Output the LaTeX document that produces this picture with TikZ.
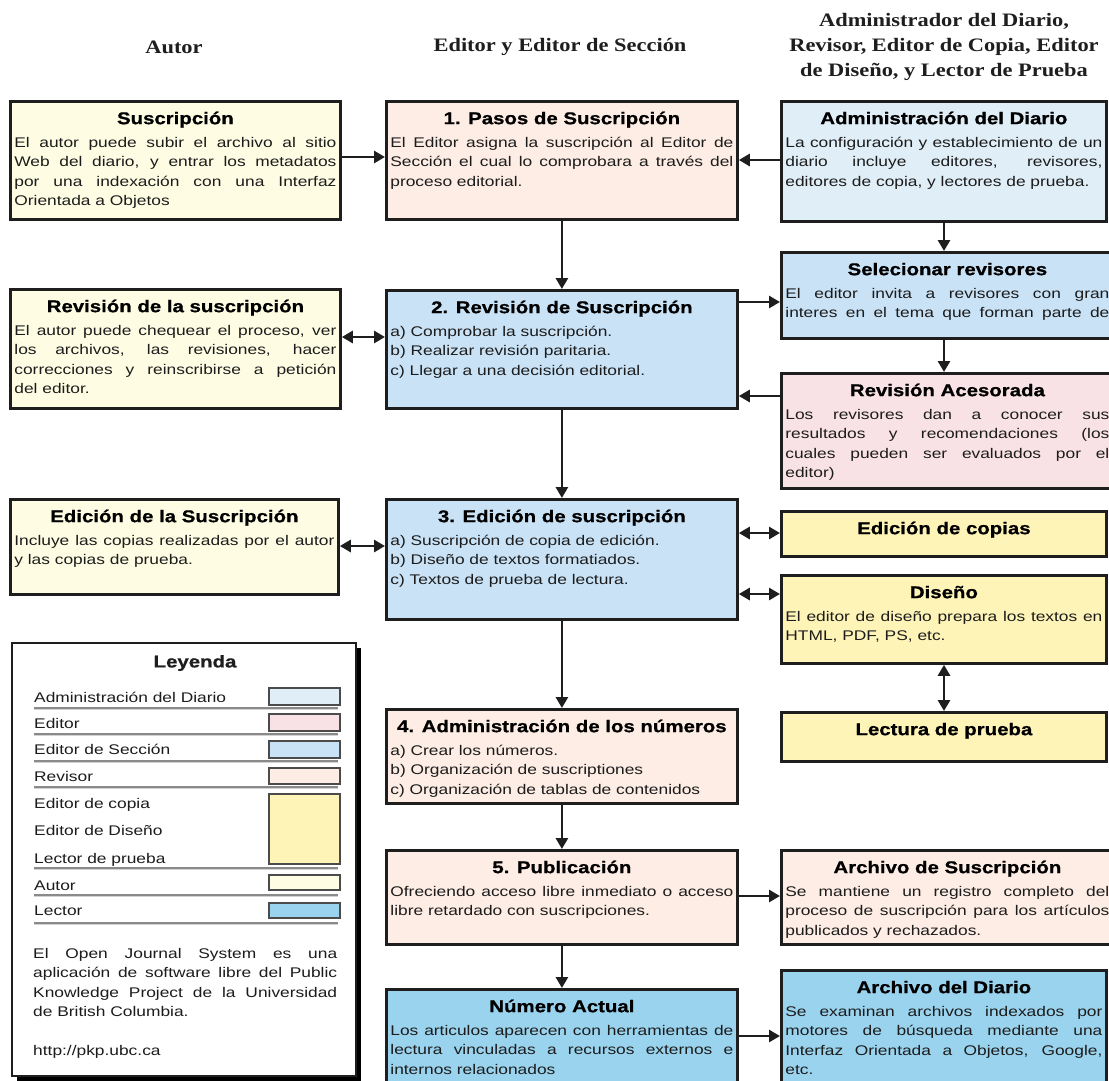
\documentclass[tikz,border=0pt]{standalone}
\usepackage{fontspec}
\setmainfont{Liberation Sans}[FakeStretch=1.24]
\newfontfamily\ttlfont{Liberation Sans}[FakeStretch=1.2,FakeBold=0.8]
\newfontfamily\hdrfont{Liberation Serif}[FakeStretch=1.18]
\usetikzlibrary{arrows.meta,shadows}
\definecolor{cAutor}{HTML}{FEFDE4}
\definecolor{cPeach}{HTML}{FDEDE4}
\definecolor{cAdmin}{HTML}{E0EEF7}
\definecolor{cSec}{HTML}{C9E2F6}
\definecolor{cPink}{HTML}{F9E2E5}
\definecolor{cYel}{HTML}{FFF4B8}
\definecolor{cLector}{HTML}{9AD3EE}
\definecolor{cLine}{HTML}{1E1E1E}
\definecolor{cText}{HTML}{1C1C1C}
\definecolor{cSepD}{HTML}{8A8A8A}
\definecolor{cSepL}{HTML}{D2D2D2}
\newcommand{\bxc}[4]{\parbox[c][#1][t]{#2}{%
  {\centering\ttlfont\bfseries\fontsize{17}{20}\selectfont\rule{0pt}{22.75pt}#3\par}%
  \vspace{3.75pt}%
  {\fontsize{14}{19.5}\selectfont\color{cText}#4\par}}}
\begin{document}
\begin{tikzpicture}[x=1pt,y=-1pt,
  bx/.style={draw=cLine, line width=2.8pt, inner xsep=4pt, inner ysep=0pt, anchor=north west},
  arr/.style={draw=cLine, line width=2.8pt, -{Triangle[length=11pt,width=12pt]}},
  darr/.style={draw=cLine, line width=2.8pt, {Triangle[length=11pt,width=12pt]}-{Triangle[length=11pt,width=12pt]}},
  hdr/.style={font=\hdrfont\bfseries\fontsize{19}{25}\selectfont, align=center, inner sep=0pt, text=cLine},
  lg/.style={anchor=base west, inner sep=0pt, font=\fontsize{14}{19.5}\selectfont, text=cText},
  sw/.style={draw=cLine!80, line width=1.6pt, minimum width=71pt, inner sep=0pt, anchor=north west},
  sepd/.style={draw=cSepD, line width=1.2pt},
  sepl/.style={draw=cSepL, line width=1.2pt}]
\useasboundingbox (0,0) rectangle (1109,1080);
\fill[white] (0,0) rectangle (1109,1080);

% headers
\node[hdr] (hA) at (174,47) {Autor};
\node[hdr] (hE) at (560,47) {Editor y Editor de Sección};
\node[hdr] (hR) at (944,47) {Administrador del Diario,\\Revisor, Editor de Copia, Editor\\de Diseño, y Lector de Prueba};

% left column
\node[bx, fill=cAutor] (L1) at (9,100) {\bxc{118pt}{322pt}{Suscripción}{El autor puede subir el archivo al sitio\linebreak Web del diario, y entrar los metadatos\linebreak por una indexación con una Interfaz\linebreak Orientada a Objetos}};
\node[bx, fill=cAutor] (L2) at (9,288) {\bxc{119pt}{322pt}{Revisión de la suscripción}{El autor puede chequear el proceso, ver\linebreak los archivos, las revisiones, hacer\linebreak correcciones y reinscribirse a petición\linebreak del editor.}};
\node[bx, fill=cAutor] (L3) at (9,498) {\bxc{95pt}{320pt}{Edición de la Suscripción}{Incluye las copias realizadas por el autor\linebreak y las copias de prueba.}};

% middle column
\node[bx, fill=cPeach] (M1) at (385,100) {\bxc{118pt}{343pt}{1. Pasos de Suscripción}{El Editor asigna la suscripción al Editor de\linebreak Sección el cual lo comprobara a través del\linebreak proceso editorial.}};
\node[bx, fill=cSec] (M2) at (385,289) {\bxc{118pt}{343pt}{2. Revisión de Suscripción}{a) Comprobar la suscripción.\newline b) Realizar revisión paritaria.\newline c) Llegar a una decisión editorial.}};
\node[bx, fill=cSec] (M3) at (385,498) {\bxc{120pt}{343pt}{3. Edición de suscripción}{a) Suscripción de copia de edición.\newline b) Diseño de textos formatiados.\newline c) Textos de prueba de lectura.}};
\node[bx, fill=cPeach] (M4) at (385,708) {\bxc{94pt}{343pt}{4. Administración de los números}{a) Crear los números.\newline b) Organización de suscriptiones\newline c) Organización de tablas de contenidos}};
\node[bx, fill=cPeach] (M5) at (385,849) {\bxc{94pt}{343pt}{5. Publicación}{Ofreciendo acceso libre inmediato o acceso\linebreak libre retardado con suscripciones.}};
\node[bx, fill=cLector] (M6) at (385,988) {\bxc{112pt}{343pt}{Número Actual}{Los articulos aparecen con herramientas de\linebreak lectura vinculadas a recursos externos e\linebreak internos relacionados}};

% right column
\node[bx, fill=cAdmin] (R1) at (780,100) {\bxc{120pt}{317pt}{Administración del Diario}{La configuración y establecimiento de un\linebreak diario incluye editores, revisores,\linebreak editores de copia, y lectores de prueba.}};
\node[bx, fill=cSec] (R2) at (780,251) {\bxc{86pt}{324pt}{Selecionar revisores}{El editor invita a revisores con gran\linebreak interes en el tema que forman parte de\parfillskip=0pt}};
\node[bx, fill=cPink] (R3) at (780,372) {\bxc{115pt}{324pt}{Revisión Acesorada}{Los revisores dan a conocer sus\linebreak resultados y recomendaciones (los\linebreak cuales pueden ser evaluados por el\linebreak editor)}};
\node[bx, fill=cYel] (R4) at (780,510) {\bxc{45pt}{317pt}{Edición de copias}{}};
\node[bx, fill=cYel] (R5) at (780,574) {\bxc{88pt}{317pt}{Diseño}{El editor de diseño prepara los textos en\linebreak HTML, PDF, PS, etc.}};
\node[bx, fill=cYel] (R6) at (780,711) {\bxc{49pt}{317pt}{Lectura de prueba}{}};
\node[bx, fill=cPeach] (R7) at (780,849) {\bxc{94pt}{324pt}{Archivo de Suscripción}{Se mantiene un registro completo del\linebreak proceso de suscripción para los artículos\linebreak publicados y rechazados.}};
\node[bx, fill=cLector] (R8) at (780,969) {\bxc{132pt}{317pt}{Archivo del Diario}{Se examinan archivos indexados por\linebreak motores de búsqueda mediante una\linebreak Interfaz Orientada a Objetos, Google,\linebreak etc.}};

% helper coordinates
\coordinate (y157) at (0,157);
\coordinate (y160) at (0,160);
\coordinate (y302) at (0,302);
\coordinate (y337) at (0,337);
\coordinate (y396) at (0,396);
\coordinate (y533) at (0,533);
\coordinate (y546) at (0,546);
\coordinate (y594) at (0,594);
\coordinate (y896) at (0,896);
\coordinate (y1036) at (0,1036);
\coordinate (xr) at (944,0);

% connectors
\draw[arr] (L1.east |- y157) -- (M1.west |- y157);
\draw[arr] (R1.west |- y160) -- (M1.east |- y160);
\draw[arr] (M1.south) -- (M2.north);
\draw[arr] (R1.south -| xr) -- (R2.north -| xr);
\draw[arr] (M2.east |- y302) -- (R2.west |- y302);
\draw[arr] (R2.south -| xr) -- (R3.north -| xr);
\draw[arr] (R3.west |- y396) -- (M2.east |- y396);
\draw[darr] (L2.east |- y337) -- (M2.west |- y337);
\draw[arr] (M2.south) -- (M3.north);
\draw[darr] (L3.east |- y546) -- (M3.west |- y546);
\draw[darr] (M3.east |- y533) -- (R4.west |- y533);
\draw[darr] (M3.east |- y594) -- (R5.west |- y594);
\draw[darr] (R5.south -| xr) -- (R6.north -| xr);
\draw[arr] (M3.south) -- (M4.north);
\draw[arr] (M4.south) -- (M5.north);
\draw[arr] (M5.south) -- (M6.north);
\draw[arr] (M5.east |- y896) -- (R7.west |- y896);
\draw[arr] (M6.east |- y1036) -- (R8.west |- y1036);

% legend
\node[draw=cLine, line width=2pt, fill=white, minimum width=344pt, minimum height=433pt, inner sep=0pt, anchor=north west,
      drop shadow={shadow xshift=5pt, shadow yshift=-5pt, opacity=1, fill=black}] (leg) at (11,642) {};
\node[font=\ttlfont\bfseries\fontsize{17}{20}\selectfont, text=cLine, inner sep=0pt] (legT) at (195,663) {Leyenda};
\node[lg] (lg1) at (34,702) {Administración del Diario};
\node[lg] (lg2) at (34,728) {Editor};
\node[lg] (lg3) at (34,754) {Editor de Sección};
\node[lg] (lg4) at (34,781) {Revisor};
\node[lg] (lg5) at (34,808) {Editor de copia};
\node[lg] (lg6) at (34,835) {Editor de Diseño};
\node[lg] (lg7) at (34,863) {Lector de prueba};
\node[lg] (lg8) at (34,890) {Autor};
\node[lg] (lg9) at (34,915) {Lector};
\node[sw, fill=cAdmin, minimum height=17pt] (sw1) at (268,687) {};
\node[sw, fill=cPink, minimum height=17pt] (sw2) at (268,713) {};
\node[sw, fill=cSec, minimum height=17pt] (sw3) at (268,740) {};
\node[sw, fill=cPeach, minimum height=16pt] (sw4) at (268,767) {};
\node[sw, fill=cYel, minimum height=70pt] (sw5) at (268,793) {};
\node[sw, fill=cAutor, minimum height=15pt] (sw6) at (268,874) {};
\node[sw, fill=cLector, minimum height=15pt] (sw7) at (268,902) {};
\foreach \yy in {708,734,761,787,868,895,923} {
  \draw[sepd] (34,\yy) -- (338,\yy);
  \draw[sepl] (34,{\yy+1.8}) -- (338,{\yy+1.8});
}
\node[lg, text width=304pt, align=justify] (legP) at (33,958) {El Open Journal System es una\linebreak aplicación de software libre del Public\linebreak Knowledge Project de la Universidad\linebreak de British Columbia.};
\node[lg] (legU) at (33,1055) {http://pkp.ubc.ca};
\end{tikzpicture}
\end{document}
